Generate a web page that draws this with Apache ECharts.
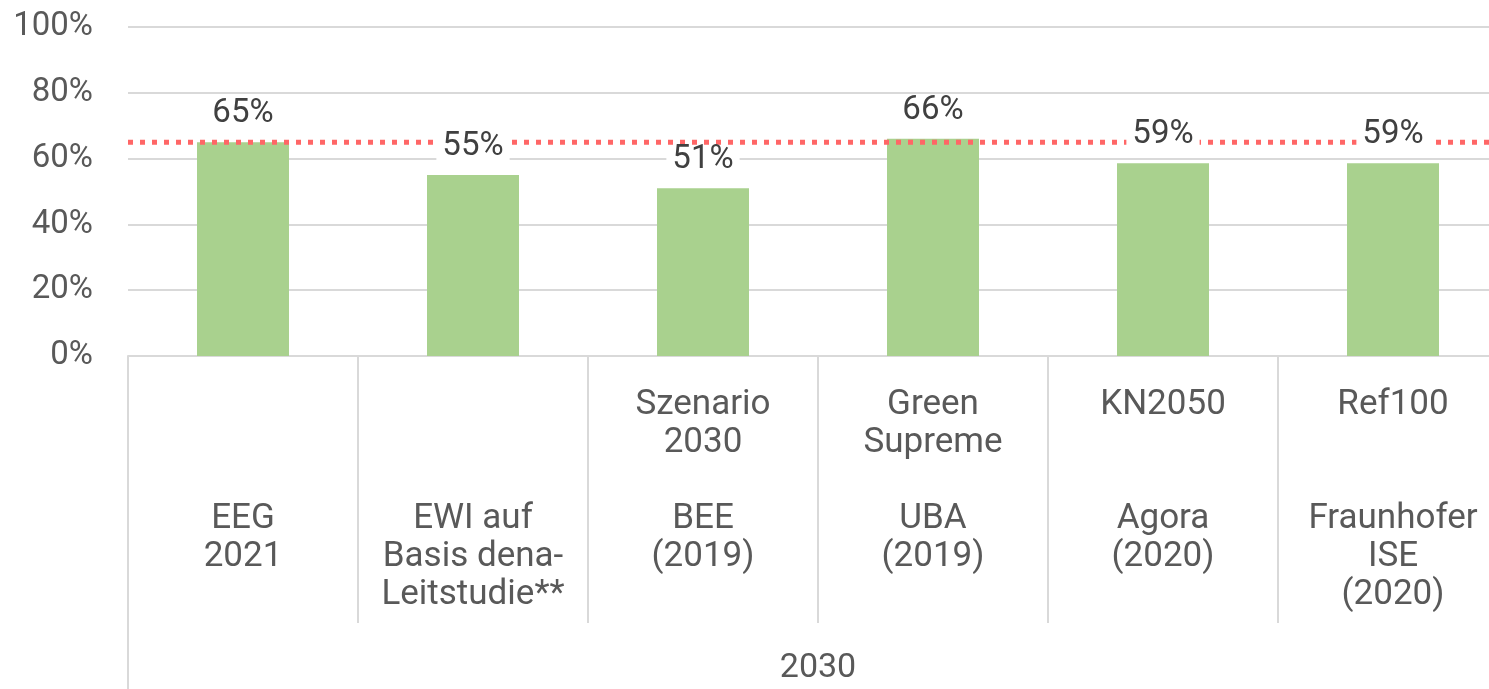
<!DOCTYPE html>
<html>
<head>
<meta charset="utf-8">
<script src="https://cdn.jsdelivr.net/npm/echarts@6/dist/echarts.min.js"></script>
<style>
html,body{margin:0;padding:0;background:#fff;}
#chart{width:1489px;height:689px;}
</style>
</head>
<body>
<div id="chart"></div>
<script>
// ---- data ----
const scenarios = ['', '', 'Szenario\n2030', 'Green\nSupreme', 'KN2050', 'Ref100'];
const institutions = ['EEG\n2021', 'EWI auf\nBasis dena-\nLeitstudie**', 'BEE\n(2019)', 'UBA\n(2019)', 'Agora\n(2020)', 'Fraunhofer\nISE\n(2020)'];
const values = [65, 55, 51, 66, 58.6, 58.6];
const groupLabels = ['2030'];
const targetValue = 65;
const yTicks = [0, 20, 40, 60, 80, 100];

// ---- build ----
const categories = scenarios.map((s, i) => s.replace(/\n/g, ' ') + ' | ' + institutions[i].replace(/\n/g, ' '));
function buildLabel(i) {
  const top = scenarios[i] ? scenarios[i].split('\n') : [];
  while (top.length < 3) top.push(' ');
  return top.concat(institutions[i].split('\n')).join('\n');
}
const FONT = 'Roboto';
const grey = '#d9d9d9';

const chart = echarts.init(document.getElementById('chart'), null, {renderer: 'canvas'});
chart.setOption({
  animation: false,
  backgroundColor: '#ffffff',
  grid: {left: 128, right: -19, top: 27, bottom: 333, containLabel: false, outerBoundsMode: 'none'},
  textStyle: {fontFamily: FONT},
  xAxis: [
    {
      type: 'category', data: categories, position: 'bottom',
      axisLine: {show: true, lineStyle: {color: grey, width: 2}},
      axisTick: {show: true, interval: 0, alignWithLabel: false, length: 267, lineStyle: {color: grey, width: 2}},
      axisLabel: {
        interval: 0, margin: 30, fontSize: 35, lineHeight: 38, color: '#595959', fontFamily: FONT,
        formatter: (v, i) => buildLabel(i)
      },
      splitLine: {show: false}
    },
    {
      type: 'category', data: groupLabels, position: 'bottom',
      axisLine: {show: false},
      axisTick: {show: true, interval: 0, alignWithLabel: false, length: 340, lineStyle: {color: grey, width: 2}},
      axisLabel: {interval: 0, margin: 293, fontSize: 34, lineHeight: 38, color: '#595959', fontFamily: FONT},
      splitLine: {show: false}
    },
    {
      type: 'value', show: false, min: 0, max: 1, position: 'top'
    }
  ],
  yAxis: {
    type: 'value', min: yTicks[0], max: yTicks[yTicks.length - 1], interval: yTicks[1] - yTicks[0],
    axisLine: {show: false}, axisTick: {show: false},
    axisLabel: {formatter: '{value}%', fontSize: 33, color: '#595959', margin: 35, fontFamily: FONT},
    splitLine: {lineStyle: {color: grey, width: 2}}
  },
  series: [
    {
      type: 'bar', xAxisIndex: 0, data: values, barWidth: '40%', z: 2,
      itemStyle: {color: '#a9d18e'}
    },
    {
      type: 'line', xAxisIndex: 2, z: 3, symbol: 'none', silent: true,
      data: [[0, targetValue], [1, targetValue]],
      lineStyle: {color: '#ff6666', width: 5, type: [5, 7], cap: 'butt'}
    },
    {
      type: 'bar', xAxisIndex: 0, data: values, barWidth: '40%', barGap: '-100%', z: 4,
      itemStyle: {color: 'rgba(0,0,0,0)'},
      label: {
        show: true, position: 'top', distance: 15,
        formatter: (p) => Math.round(p.value) + '%',
        fontSize: 33, lineHeight: 26, color: '#404040', fontFamily: FONT,
        backgroundColor: '#ffffff', padding: [0, 6]
      }
    }
  ]
});
</script>
</body>
</html>
